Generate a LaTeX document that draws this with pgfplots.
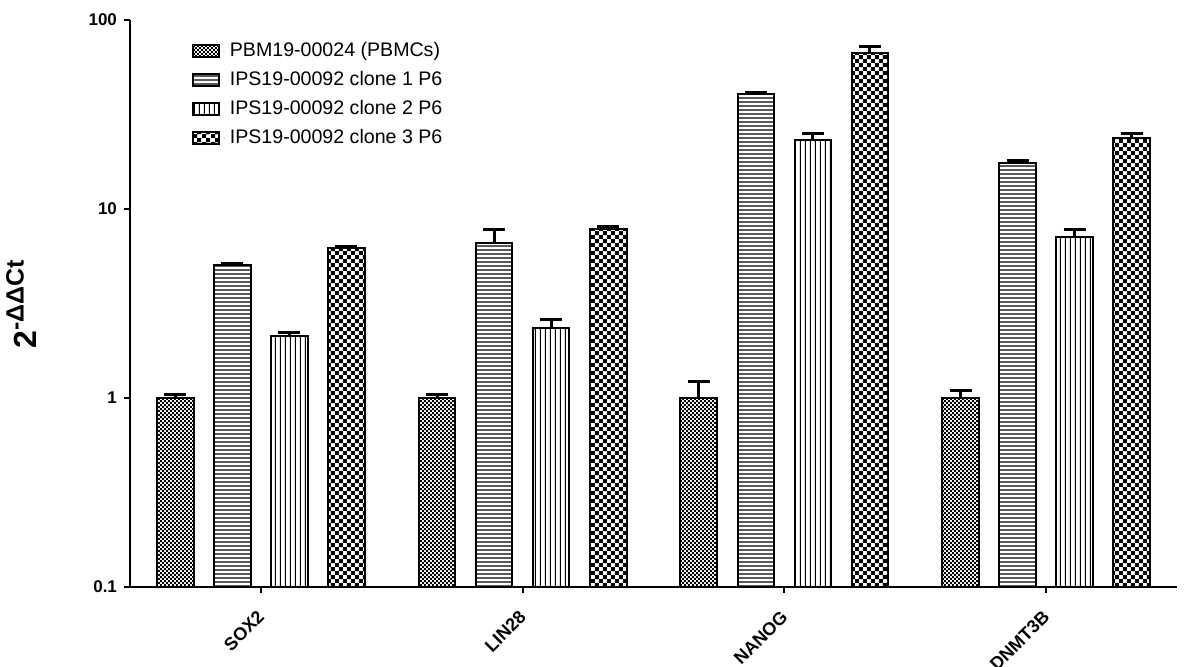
\documentclass[border=0pt]{standalone}
\usepackage{pgfplots}
\pgfplotsset{compat=1.18}
\usepackage{fontspec}
\setmainfont{Liberation Sans}
\usetikzlibrary{patterns}

\pgfdeclarepatternformonly{finecheck}{\pgfpointorigin}{\pgfqpoint{2.2pt}{2.2pt}}{\pgfqpoint{2.2pt}{2.2pt}}{%
 \pgfpathrectangle{\pgfpointorigin}{\pgfqpoint{1.1pt}{1.1pt}}%
 \pgfpathrectangle{\pgfqpoint{1.1pt}{1.1pt}}{\pgfqpoint{1.1pt}{1.1pt}}%
 \pgfusepath{fill}}
\pgfdeclarepatternformonly{bigcheck}{\pgfpointorigin}{\pgfqpoint{4.2pt}{4.2pt}}{\pgfqpoint{4.2pt}{4.2pt}}{%
 \pgfpathrectangle{\pgfpointorigin}{\pgfqpoint{2.1pt}{2.1pt}}%
 \pgfpathrectangle{\pgfqpoint{2.1pt}{2.1pt}}{\pgfqpoint{2.1pt}{2.1pt}}%
 \pgfusepath{fill}}
\pgfdeclarepatternformonly{hl}{\pgfpointorigin}{\pgfqpoint{2.2pt}{2.2pt}}{\pgfqpoint{2.2pt}{2.2pt}}{%
 \pgfsetlinewidth{0.65pt}%
 \pgfpathmoveto{\pgfqpoint{-0.1pt}{1.1pt}}\pgfpathlineto{\pgfqpoint{2.3pt}{1.1pt}}%
 \pgfusepath{stroke}}
\pgfdeclarepatternformonly{vl}{\pgfpointorigin}{\pgfqpoint{2.4pt}{2.4pt}}{\pgfqpoint{2.4pt}{2.4pt}}{%
 \pgfsetlinewidth{0.55pt}%
 \pgfpathmoveto{\pgfqpoint{1.2pt}{-0.1pt}}\pgfpathlineto{\pgfqpoint{1.2pt}{2.5pt}}%
 \pgfusepath{stroke}}

\pgfplotsset{
 legpat/.style={legend image code/.code={%
   \draw[line width=1pt, pattern=#1] (0pt,-3pt) rectangle (13pt,3pt);
   \path[draw=none] (0pt,0pt) -- (16.5pt,0pt);}},
 mybar/.style={ybar, bar width=0.14, bar shift=0pt, draw=black, line width=1pt, pattern=#1, legpat=#1},
}

\begin{document}
\begin{tikzpicture}
\begin{axis}[
 name=ax, at={(0,0)}, anchor=south west, scale only axis,
 width=523.5pt, height=283.5pt,
 ymode=log, log origin y=infty, ymin=0.1, ymax=100,
 xmin=-0.5, xmax=3.5,
 axis x line=bottom, axis y line=left,
 axis line style={line width=1pt,-},
 tick style={line width=1pt, black},
 tick align=outside, major tick length=3pt,
 yminorticks=false,
 ytick={0.1,1,10,100}, yticklabels={0.1,1,10,100},
 xtick={0,1,2,3}, xticklabels={SOX2,LIN28,NANOG,DNMT3B},
 yticklabel style={font=\bfseries\fontsize{8.5}{10}\selectfont},
 xticklabel style={font=\bfseries\fontsize{9}{10}\selectfont, xshift=2.5pt, yshift=-8pt, rotate=45, anchor=east},
 ylabel={\bfseries\fontsize{16}{18}\selectfont 2\textsuperscript{\fontsize{12.5}{14}\selectfont -ΔΔCt}},
 ylabel style={at={(axis description cs:-0.104,0.5)}, anchor=center},
 error bars/y dir=plus, error bars/y explicit,
 error bars/error bar style={line width=1.5pt, solid},
 error bars/error mark options={line width=1.5pt, mark size=5.5pt, rotate=90},
 legend style={at={(0.053,0.975)}, anchor=north west, draw=none, fill=none,
   font=\fontsize{9.8}{12}\selectfont, row sep=1.9pt},
 legend cell align=left,
]
\addplot[mybar=finecheck]
 coordinates {(-0.327,1.0) +- (0,0.05) (0.673,1.0) +- (0,0.05) (1.673,1.0) +- (0,0.22) (2.673,1.0) +- (0,0.10)};
\addplot[mybar=hl]
 coordinates {(-0.109,5.05) +- (0,0.12) (0.891,6.6) +- (0,1.2) (1.891,40.5) +- (0,1.0) (2.891,17.5) +- (0,0.5)};
\addplot[mybar=vl]
 coordinates {(0.109,2.13) +- (0,0.08) (1.109,2.35) +- (0,0.24) (2.109,23.2) +- (0,2.0) (3.109,7.1) +- (0,0.65)};
\addplot[mybar=bigcheck]
 coordinates {(0.327,6.2) +- (0,0.15) (1.327,7.85) +- (0,0.25) (2.327,67) +- (0,5) (3.327,23.8) +- (0,1.4)};
\legend{PBM19-00024 (PBMCs), IPS19-00092 clone 1 P6, IPS19-00092 clone 2 P6, IPS19-00092 clone 3 P6}
\end{axis}
\pgfresetboundingbox
\path (-65pt,-39.5pt) rectangle (527pt,293.5pt);
\end{tikzpicture}
\end{document}
